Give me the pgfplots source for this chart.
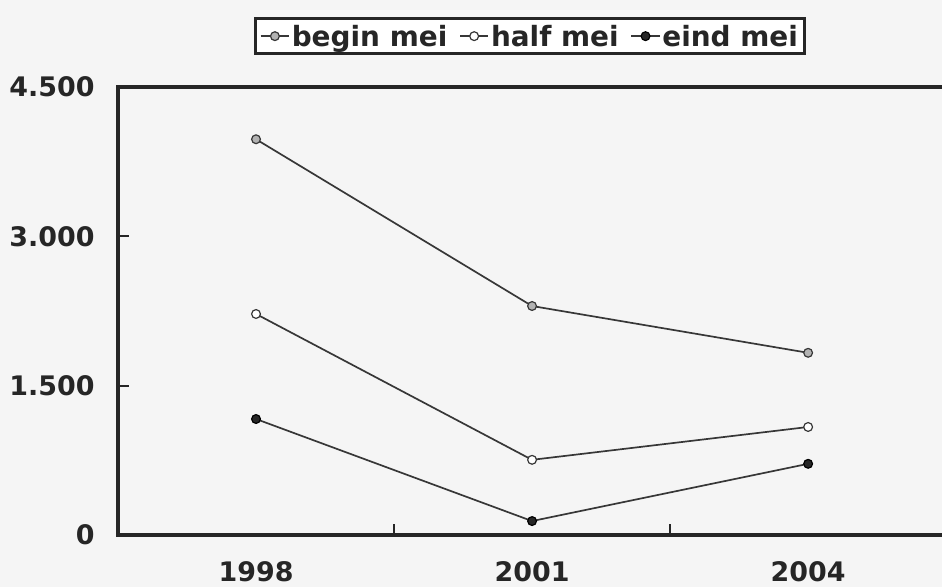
\documentclass[border=0pt]{standalone}
\usepackage{pgfplots}
\pgfplotsset{compat=1.18}
\usepackage{fontspec}
\setmainfont{DejaVu Sans}
\definecolor{bg}{RGB}{245,245,245}
\definecolor{ln}{RGB}{55,55,55}
\begin{document}
\begin{tikzpicture}[x=1bp,y=1bp]
\fill[bg] (-118,-52) rectangle (824,535);
\begin{axis}[
  at={(0,0)}, anchor=south west,
  scale only axis, width=824bp, height=448bp,
  xmin=-0.5, xmax=2.485, ymin=0, ymax=4500,
  axis x line=box, axis y line=left,
  axis line style={draw=none},
  xtick={0,1,2}, xticklabels={1998,2001,2004},
  ytick={0,1500,3000,4500},
  yticklabels={0,{1.500},{3.000},{4.500}},
  tick style={draw=none},
  major tick length=0pt,
  tick label style={font=\fontsize{27}{29}\selectfont\bfseries, text=black!85},
  xticklabel style={yshift=-23bp},
  yticklabel style={xshift=-20bp},
  legend style={at={(0.5,1)}, yshift=32bp, anchor=south, legend columns=3,
    draw=black!85, line width=3pt, fill=white,
    font=\fontsize{28}{30}\selectfont\bfseries, text=black!85,
    inner xsep=5bp, inner ysep=4bp,
    /tikz/every even column/.append style={column sep=10bp}},
  legend image code/.code={
    \draw[#1, line width=1.4pt] (0,0) -- (1cm,0);
    \draw[#1, line width=1.2pt, mark repeat=1] plot coordinates {(0.5cm,0)};},
  every axis plot/.append style={line width=1.7pt, color=ln, mark=*, mark size=4.4bp},
  clip=false,
]
\draw[line width=3.4pt, black!85, line cap=rect] (rel axis cs:1,1) -- (rel axis cs:0,1) -- (rel axis cs:0,0) -- (rel axis cs:1,0);
\draw[line width=1.8pt, black!85] (axis cs:-0.5,1500) -- ([xshift=11bp]axis cs:-0.5,1500);
\draw[line width=1.8pt, black!85] (axis cs:-0.5,3000) -- ([xshift=11bp]axis cs:-0.5,3000);
\draw[line width=1.8pt, black!85] (axis cs:0.5,0) -- ([yshift=11bp]axis cs:0.5,0);
\draw[line width=1.8pt, black!85] (axis cs:1.5,0) -- ([yshift=11bp]axis cs:1.5,0);
\addplot[mark options={fill=gray!60, draw=ln, line width=1.2pt}] coordinates {(0,3975) (1,2300) (2,1830)};
\addlegendentry{begin mei}
\addplot[mark options={fill=white, draw=ln, line width=1.2pt}] coordinates {(0,2220) (1,755) (2,1085)};
\addlegendentry{half mei}
\addplot[mark options={fill=black!85, draw=black, line width=1.2pt}] coordinates {(0,1165) (1,140) (2,715)};
\addlegendentry{eind mei}
\end{axis}
\pgfresetboundingbox
\path[use as bounding box] (-118,-52) rectangle (824,535);
\end{tikzpicture}
\end{document}
